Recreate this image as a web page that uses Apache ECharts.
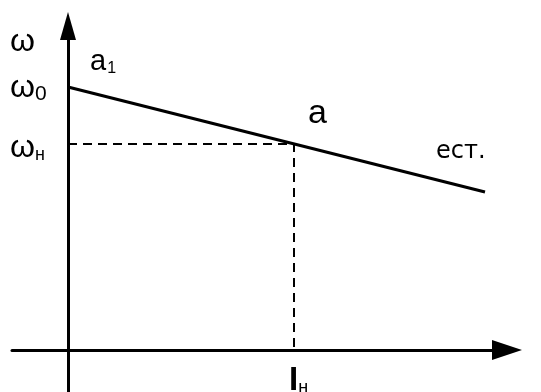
<!DOCTYPE html>
<html>
<head>
<meta charset="utf-8">
<script src="https://cdn.jsdelivr.net/npm/echarts@6/dist/echarts.min.js"></script>
<style>
  html, body { margin: 0; padding: 0; background: #fff; }
  #chart { width: 541px; height: 392px; }
</style>
</head>
<body>
<div id="chart"></div>
<script>
// characteristic line (natural), arbitrary units: origin at the axis crossing
var lineX = [0, 417];
var lineY = [263, 158];
// rated operating point a
var ratedX = 226;
var ratedY = 206;
// axis extents (part of the axes extends past the origin)
var xRange = [-56, 439];
var yRange = [-42, 324];

// text annotations: [x, y, rich text]
var notes = [
  [-58, 308, '{g|ω}'],
  [-58, 261.5, '{g|ω}{d|0}'],
  [-58, 201.5, '{g|ω}{s|н}'],
  [22, 288, '{a1|a}{s1|1}'],
  [240, 236, '{a|a}'],
  [368, 198, '{e|ест.}'],
  [221, -30.5, '{i|I}{si|н}']
];

var font = 'Liberation Sans, Arial, sans-serif';

var myChart = echarts.init(document.getElementById('chart'), null, { renderer: 'canvas' });

var option = {
  backgroundColor: '#fff',
  animation: false,
  grid: { left: 12, right: 34, top: 26, bottom: 0, containLabel: false },
  xAxis: {
    type: 'value',
    min: xRange[0],
    max: xRange[1],
    axisLine: {
      onZero: true,
      symbol: ['none', 'triangle'],
      symbolSize: [20, 30],
      lineStyle: { color: '#000', width: 3 }
    },
    axisTick: { show: false },
    axisLabel: { show: false },
    splitLine: { show: false }
  },
  yAxis: {
    type: 'value',
    min: yRange[0],
    max: yRange[1],
    axisLine: {
      onZero: true,
      symbol: ['none', 'triangle'],
      symbolSize: [16, 28],
      lineStyle: { color: '#000', width: 3 }
    },
    axisTick: { show: false },
    axisLabel: { show: false },
    splitLine: { show: false }
  },
  series: [
    {
      type: 'line',
      data: [[lineX[0], lineY[0]], [lineX[1], lineY[1]]],
      symbol: 'none',
      lineStyle: { color: '#000', width: 3 },
      z: 3
    },
    {
      type: 'line',
      data: [[0, ratedY], [ratedX, ratedY], [ratedX, 0]],
      symbol: 'none',
      lineStyle: { color: '#000', width: 2, type: [9, 6] },
      z: 2
    },
    {
      type: 'scatter',
      symbolSize: 0,
      clip: false,
      silent: true,
      data: notes.map(function (n) { return { value: [n[0], n[1]], label: { formatter: n[2] } }; }),
      label: {
        show: true,
        position: 'right',
        distance: 0,
        color: '#000',
        opacity: 1,
        textBorderWidth: 0,
        rich: {
          g: { fontFamily: font, fontSize: 32, color: '#000', lineHeight: 32, verticalAlign: 'bottom' },
          d: { fontFamily: font, fontSize: 21, color: '#000', lineHeight: 24, verticalAlign: 'bottom' },
          s: { fontFamily: font, fontSize: 18, color: '#000', lineHeight: 17, verticalAlign: 'bottom' },
          a1: { fontFamily: font, fontSize: 29, color: '#000', lineHeight: 29, verticalAlign: 'bottom' },
          s1: { fontFamily: font, fontSize: 16, color: '#000', lineHeight: 20, verticalAlign: 'bottom', padding: [0, 0, 0, 1] },
          a: { fontFamily: font, fontSize: 34, color: '#000' },
          e: { fontFamily: 'DejaVu Sans', fontSize: 24, color: '#000' },
          i: { fontFamily: font, fontSize: 33, color: '#000', fontWeight: 'bold', lineHeight: 33, verticalAlign: 'bottom' },
          si: { fontFamily: font, fontSize: 18, color: '#000', lineHeight: 18, verticalAlign: 'bottom' }
        }
      },
      z: 5
    }
  ]
};

myChart.setOption(option);
</script>
</body>
</html>
